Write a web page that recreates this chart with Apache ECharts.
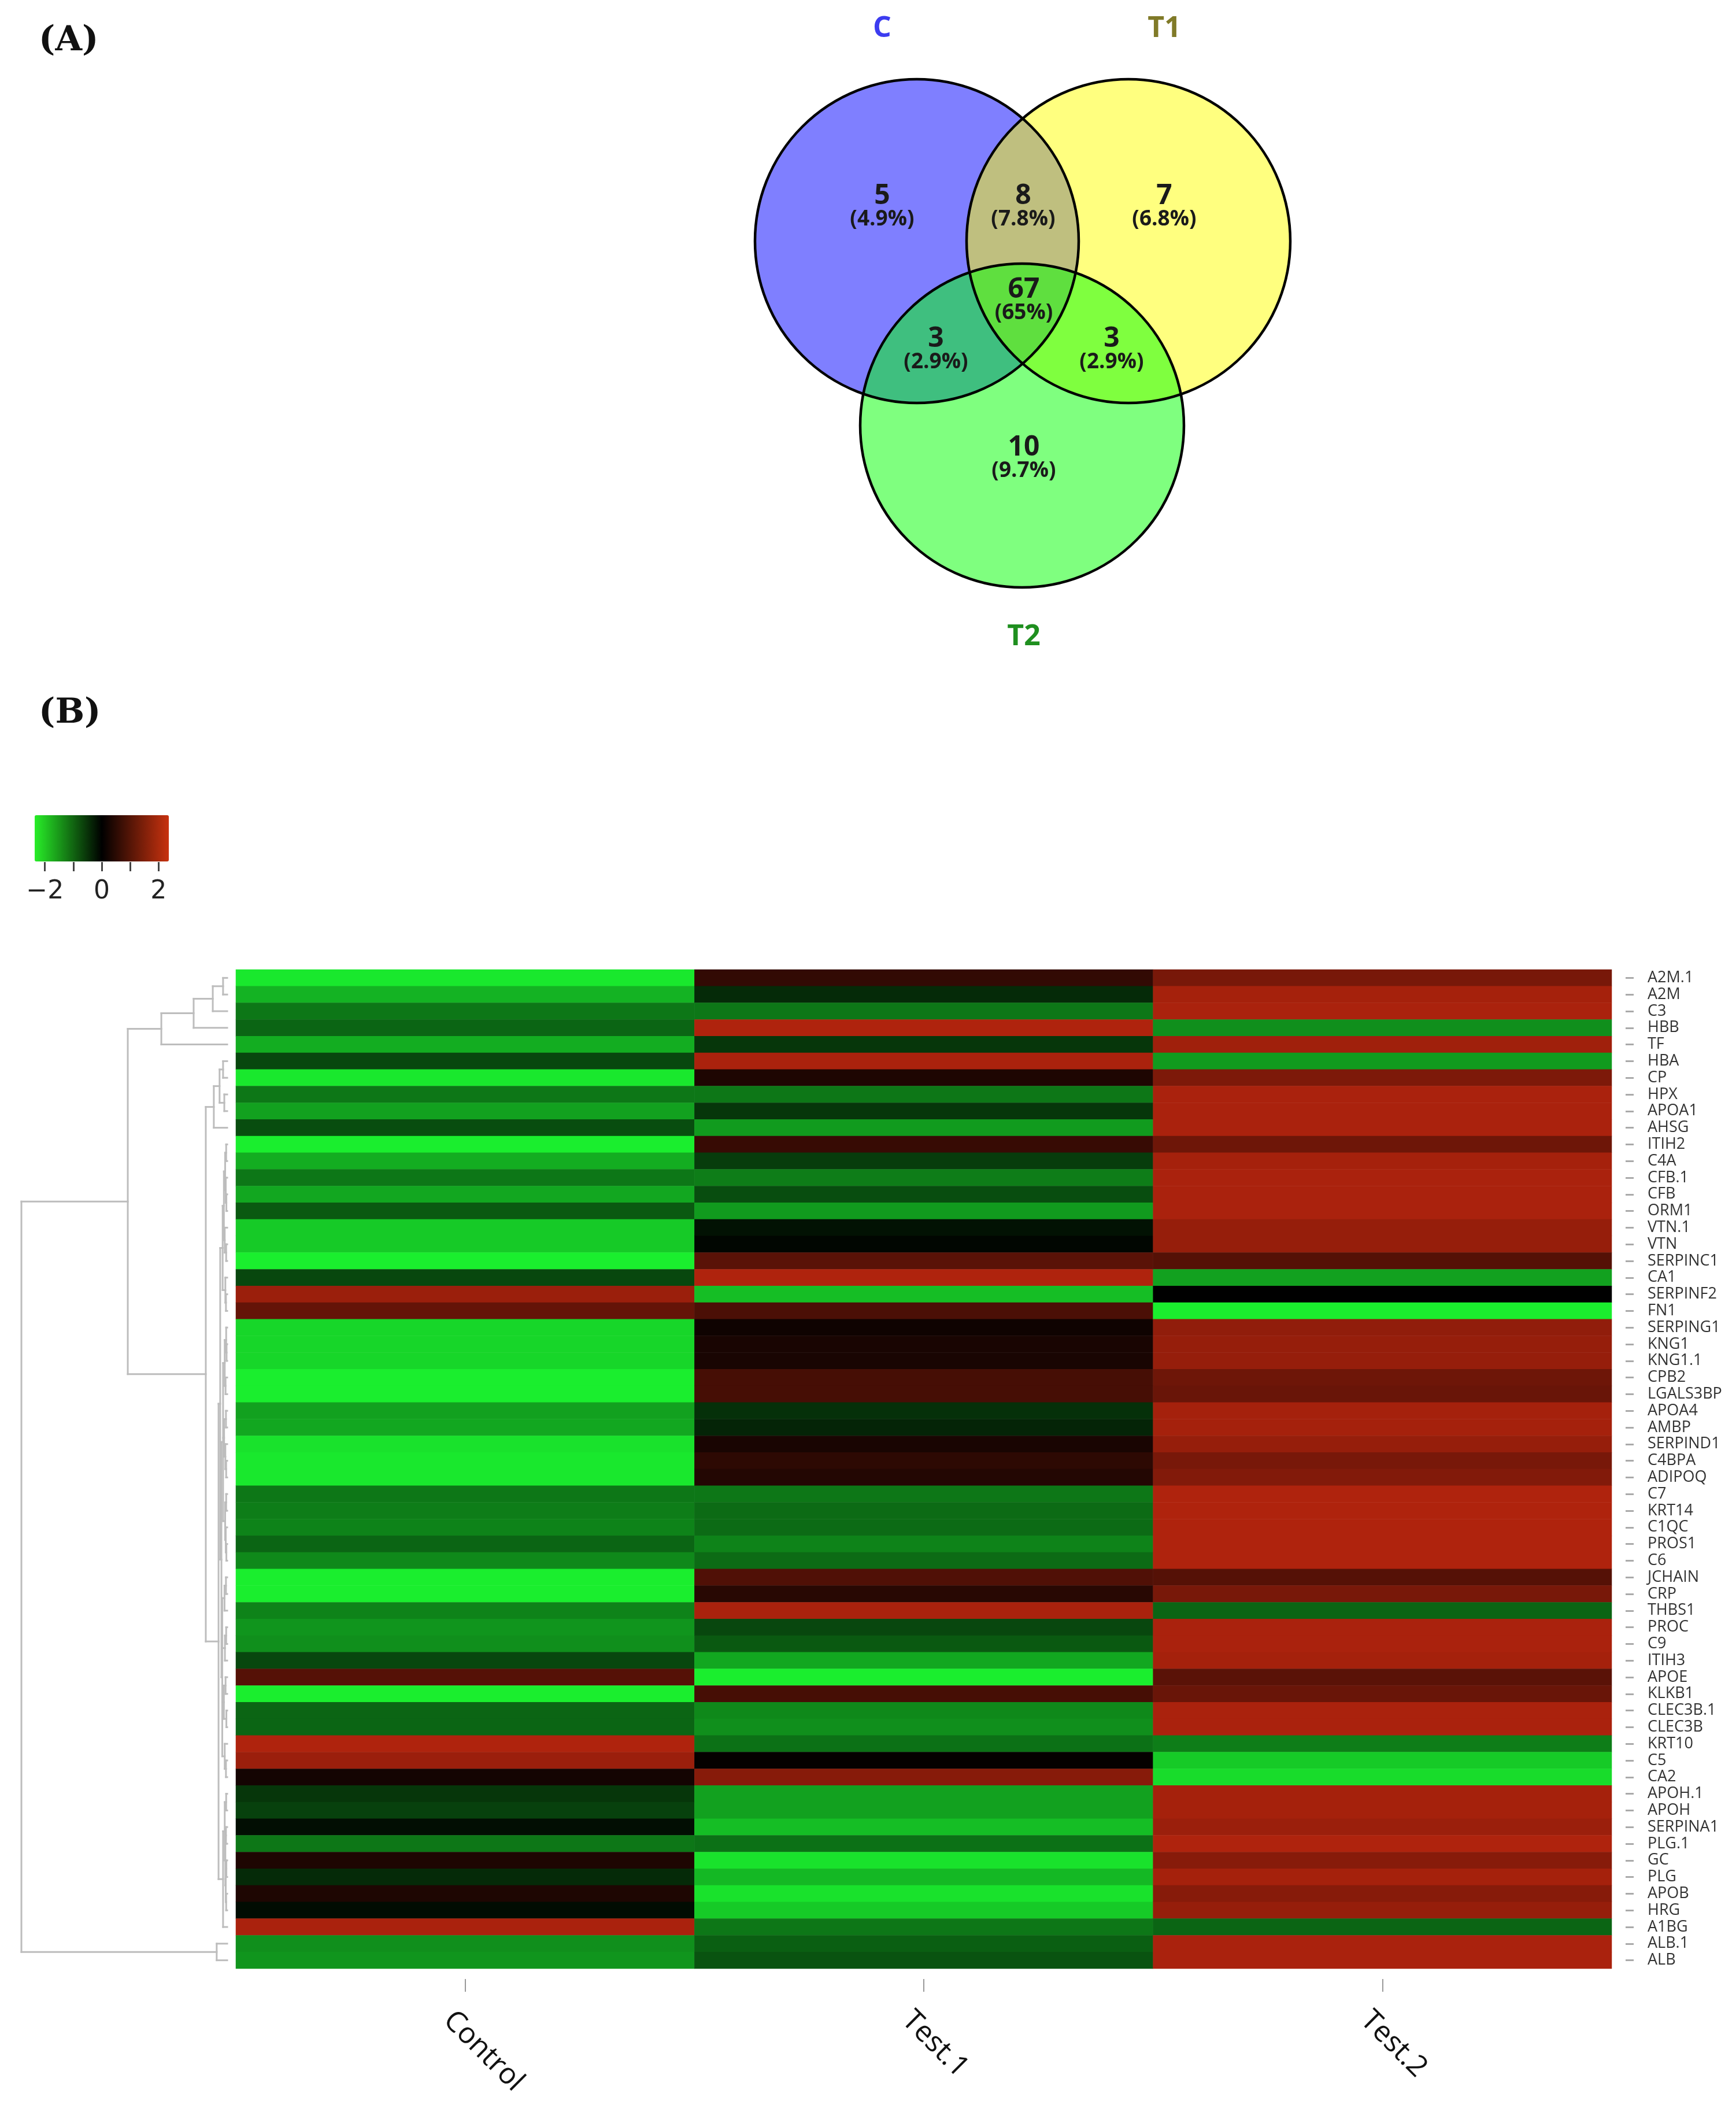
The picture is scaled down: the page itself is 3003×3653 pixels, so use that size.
<!DOCTYPE html>
<html><head><meta charset="utf-8">
<script src="https://cdn.jsdelivr.net/npm/echarts@6/dist/echarts.min.js"></script>
<style>html,body{margin:0;padding:0;background:#fff}#c{width:3003px;height:3653px}</style>
</head><body><div id="c"></div>
<script>
// ---------------- DATA ----------------
const rowLabels = ['A2M.1','A2M','C3','HBB','TF','HBA','CP','HPX','APOA1','AHSG',
  'ITIH2','C4A','CFB.1','CFB','ORM1','VTN.1','VTN','SERPINC1','CA1','SERPINF2',
  'FN1','SERPING1','KNG1','KNG1.1','CPB2','LGALS3BP','APOA4','AMBP','SERPIND1','C4BPA',
  'ADIPOQ','C7','KRT14','C1QC','PROS1','C6','JCHAIN','CRP','THBS1','PROC',
  'C9','ITIH3','APOE','KLKB1','CLEC3B.1','CLEC3B','KRT10','C5','CA2','APOH.1',
  'APOH','SERPINA1','PLG.1','GC','PLG','APOB','HRG','A1BG','ALB.1','ALB'];
const columns = ['Control','Test.1','Test.2'];
const controlValues = [
  -1.95,-1.5,-1.0,-0.85,-1.45,-0.6,-1.95,-1.0,-1.35,-0.65,
  -2.0,-1.45,-1.0,-1.4,-0.75,-1.7,-1.7,-2.0,-0.6,1.55,
  1.0,-1.8,-1.8,-1.8,-2.0,-2.0,-1.35,-1.4,-1.9,-1.95,
  -1.95,-1.0,-1.05,-1.1,-0.85,-1.15,-2.0,-2.0,-1.1,-1.25,
  -1.2,-0.6,0.85,-2.0,-0.85,-0.85,1.75,1.55,0.2,-0.45,
  -0.55,-0.12,-1.0,0.3,-0.35,0.3,-0.1,1.7,-1.2,-1.25];
const test1Values = [
  0.5,-0.35,-1.0,1.75,-0.45,1.7,0.3,-1.0,-0.45,-1.3,
  0.55,-0.5,-1.05,-0.65,-1.3,-0.15,-0.05,0.9,1.75,-1.6,
  0.75,0.15,0.25,0.25,0.7,0.7,-0.4,-0.3,0.25,0.45,
  0.35,-1.0,-0.9,-0.9,-1.1,-0.9,0.8,0.4,1.7,-0.6,
  -0.75,-1.4,-2.0,0.7,-1.15,-1.2,-0.95,0.05,1.35,-1.35,
  -1.35,-1.6,-0.95,-1.9,-1.55,-1.9,-1.7,-1.0,-0.8,-0.7];
const test2Values = [
  1.2,1.65,1.7,-1.2,1.6,-1.3,1.25,1.7,1.7,1.7,
  1.1,1.65,1.7,1.7,1.7,1.5,1.5,0.85,-1.35,0.0,
  -2.0,1.45,1.5,1.5,1.1,1.05,1.65,1.65,1.5,1.2,
  1.3,1.75,1.75,1.75,1.75,1.75,0.85,1.2,-0.85,1.7,
  1.7,1.65,0.9,1.05,1.7,1.7,-1.05,-1.7,-1.85,1.65,
  1.65,1.55,1.75,1.35,1.65,1.35,1.5,-0.85,1.7,1.7];
const legendTickValues = [-2,-1,0,1,2];
const legendLabelValues = [-2,0,2];

// row dendrogram: N(height, ...children); leaves are row labels
function N(h, ...c) { return { h: h, c: c }; }
const dendroTree = N(10.0,
  N(4.83,
    N(3.20, N(1.63, N(0.70, N(0.20, 'A2M.1', 'A2M'), 'C3'), 'HBB'), 'TF'),
    N(1.04,
      N(0.65, N(0.37, N(0.20, 'HBA', 'CP'), N(0.14, 'HPX', 'APOA1')), 'AHSG'),
      N(0.42,
        N(0.34,
          N(0.22,
            N(0.16, N(0.10, N(0.05, 'ITIH2', 'C4A'), N(0.07, 'CFB.1', N(0.04, 'CFB', 'ORM1'))),
                    N(0.12, 'VTN.1', N(0.05, 'VTN', 'SERPINC1'))),
            N(0.09, 'CA1', N(0.06, 'SERPINF2', 'FN1'))),
          N(0.28,
            N(0.20,
              N(0.12, N(0.05, 'SERPING1', N(0.03, 'KNG1', 'KNG1.1')), N(0.08, 'CPB2', 'LGALS3BP')),
              N(0.15, N(0.06, 'APOA4', 'AMBP'), N(0.09, 'SERPIND1', N(0.05, 'C4BPA', 'ADIPOQ'))),
              N(0.10, N(0.05, 'C7', 'KRT14'), N(0.07, 'C1QC', N(0.04, 'PROS1', 'C6')))),
            N(0.24,
              N(0.13, N(0.06, 'JCHAIN', 'CRP'), 'THBS1'),
              N(0.11, N(0.05, 'PROC', 'C9'), 'ITIH3'),
              N(0.16, N(0.08, 'APOE', 'KLKB1'), N(0.04, 'CLEC3B.1', 'CLEC3B')),
              N(0.12, 'KRT10', N(0.06, 'C5', 'CA2'))))),
        N(0.20,
          N(0.12, N(0.05, 'APOH.1', 'APOH'),
            N(0.09, N(0.06, 'SERPINA1', 'PLG.1'), N(0.07, N(0.04, 'GC', 'PLG'), N(0.05, 'APOB', 'HRG')))),
          'A1BG')))),
  N(0.51, 'ALB.1', 'ALB'));

// Venn diagram
const vennSets = ['C', 'T1', 'T2'];
const vennCenterX = [386, 752, 568];
const vennCenterY = [417, 417, 736];
const vennRadius = [280, 280, 280];
const vennSetLabelX = [326, 814, 571];
const vennSetLabelY = [50, 50, 1102];
const vennRegionCounts = [5, 8, 7, 3, 67, 3, 10];
const vennRegionX = [326, 570, 814, 419, 571, 723, 571];
const vennRegionY = [339, 339, 339, 586, 501, 586, 774];

// ---------------- BUILD ----------------
const heatData = [];
[controlValues, test1Values, test2Values].forEach((arr, ci) => {
  arr.forEach((v, ri) => heatData.push([ci, ri, v]));
});

const dendroSegs = [];
function layoutTree(node) {
  if (typeof node === 'string') return { y: rowLabels.indexOf(node), h: 0 };
  const kids = node.c.map(layoutTree);
  const y0 = kids[0].y, y1 = kids[kids.length - 1].y;
  dendroSegs.push([node.h, y0, node.h, y1]);
  kids.forEach(k => dendroSegs.push([node.h, k.y, k.h, k.y]));
  return { y: (y0 + y1) / 2, h: node.h };
}
layoutTree(dendroTree);

const vennTotal = vennRegionCounts.reduce((a, b) => a + b, 0);
const vennFills = ['rgba(0,0,255,0.5)', 'rgba(255,255,0,0.5)', 'rgba(0,255,0,0.5)'];
const vennTextColors = ['#3c3cf0', '#807a28', '#1f8f1f'];

const chart = echarts.init(document.getElementById('c'), null, { renderer: 'canvas' });
const option = {
  backgroundColor: '#ffffff',
  animation: false,
  title: [
    { text: '(A)', left: 62, top: 36, textStyle: { fontFamily: 'DejaVu Serif', fontWeight: 'bold', fontSize: 60, color: '#111' } },
    { text: '(B)', left: 62, top: 1199, textStyle: { fontFamily: 'DejaVu Serif', fontWeight: 'bold', fontSize: 60, color: '#111' } }
  ],
  grid: [
    { left: 408, top: 1677, width: 2380, height: 1728 },
    { left: 37, top: 1677, width: 356, height: 1728 },
    { left: 60, top: 1490, width: 232, height: 1 },
    { left: 1200, top: 0, width: 1140, height: 1150 }
  ],
  xAxis: [
    { type: 'category', gridIndex: 0, data: columns, position: 'bottom', offset: 18,
      axisLine: { show: false }, splitLine: { show: false },
      axisTick: { show: true, alignWithLabel: true, length: 22, lineStyle: { color: '#999', width: 2 } },
      axisLabel: { rotate: -45, fontSize: 50, margin: 34, color: '#111', fontFamily: 'Open Sans',
        verticalAlign: 'top', lineHeight: 84 } },
    { type: 'value', gridIndex: 1, min: 0, max: 10, inverse: true, show: false },
    { type: 'value', gridIndex: 2, min: -2.36, max: 2.36, position: 'bottom',
      axisLine: { show: false }, splitLine: { show: false },
      axisTick: { show: true, customValues: legendTickValues, length: 16, lineStyle: { color: '#444', width: 3 } },
      axisLabel: { show: true, customValues: legendLabelValues, fontSize: 44, margin: 30, color: '#222', fontFamily: 'DejaVu Sans',
        formatter: v => (v < 0 ? '\u2212' + Math.abs(v) : String(v)) } },
    { type: 'value', gridIndex: 3, min: 0, max: 1140, show: false }
  ],
  yAxis: [
    { type: 'category', gridIndex: 0, data: rowLabels, inverse: true, position: 'right', offset: 24,
      axisLine: { show: false }, splitLine: { show: false },
      axisTick: { show: true, alignWithLabel: true, length: 14, lineStyle: { color: '#aaa', width: 3 } },
      axisLabel: { interval: 0, fontSize: 27, margin: 38, color: '#333', fontFamily: 'Open Sans' } },
    { type: 'value', gridIndex: 1, min: -0.5, max: 59.5, inverse: true, show: false },
    { type: 'value', gridIndex: 2, min: 0, max: 1, show: false },
    { type: 'value', gridIndex: 3, min: 0, max: 1150, inverse: true, show: false }
  ],
  visualMap: [
    { type: 'continuous', seriesIndex: 0, dimension: 2, min: -2, max: 2, show: false,
      inRange: { color: ['#1aee2e', '#000000', '#c8280f'] } },
    { type: 'continuous', seriesIndex: [], min: -2.36, max: 2.36, show: true, orient: 'horizontal',
      left: 60, top: 1410, itemWidth: 80, itemHeight: 232, padding: 0, calculable: false, hoverLink: false,
      text: null, inRange: { color: ['#28ee28', '#000000', '#c8320f'] } }
  ],
  series: [
    { type: 'heatmap', xAxisIndex: 0, yAxisIndex: 0, data: heatData, itemStyle: { borderWidth: 0 }, progressive: 0 },
    { type: 'custom', xAxisIndex: 1, yAxisIndex: 1, data: dendroSegs, encode: { x: [0, 2], y: [1, 3] },
      renderItem: function (params, api) {
        const p1 = api.coord([api.value(0), api.value(1)]);
        const p2 = api.coord([api.value(2), api.value(3)]);
        return { type: 'line', shape: { x1: p1[0], y1: p1[1], x2: p2[0], y2: p2[1] },
          style: { stroke: '#bdbdbd', lineWidth: 3, lineCap: 'square' } };
      } },
    { type: 'custom', xAxisIndex: 3, yAxisIndex: 3,
      data: vennSets.map((s, i) => [vennCenterX[i], vennCenterY[i], vennRadius[i], i]),
      encode: { x: 0, y: 1 },
      renderItem: function (params, api) {
        const c = api.coord([api.value(0), api.value(1)]);
        const r = api.size([api.value(2), api.value(2)])[0];
        const i = api.value(3);
        const lp = api.coord([vennSetLabelX[i], vennSetLabelY[i]]);
        return { type: 'group', children: [
          { type: 'circle', shape: { cx: c[0], cy: c[1], r: r }, style: { fill: vennFills[i], stroke: null }, z2: i },
          { type: 'circle', shape: { cx: c[0], cy: c[1], r: r }, style: { fill: null, stroke: '#000', lineWidth: 4.5 }, z2: 20 },
          { type: 'text', x: lp[0], y: lp[1],
            style: { text: vennSets[i], fontSize: 50, fontWeight: 'bold', fontFamily: 'Open Sans', fill: vennTextColors[i], align: 'center', verticalAlign: 'middle' }, z2: 30 }
        ] };
      } },
    { type: 'custom', xAxisIndex: 3, yAxisIndex: 3,
      data: vennRegionCounts.map((n, i) => [vennRegionX[i], vennRegionY[i], n]),
      encode: { x: 0, y: 1 },
      z: 5,
      renderItem: function (params, api) {
        const p = api.coord([api.value(0), api.value(1)]);
        const n = api.value(2);
        const pct = (n / vennTotal * 100).toPrecision(2);
        return { type: 'group', children: [
          { type: 'text', x: p[0], y: p[1], style: { text: String(n), fontSize: 48, fontWeight: 'bold', fontFamily: 'Open Sans', fill: '#1a1a1a', align: 'center', verticalAlign: 'middle' } },
          { type: 'text', x: p[0], y: p[1] + 40, style: { text: '(' + pct + '%)', fontSize: 37, fontWeight: 'bold', fontFamily: 'Open Sans', fill: '#1a1a1a', align: 'center', verticalAlign: 'middle' } }
        ] };
      } }
  ]
};
chart.setOption(option);
</script>
</body></html>
